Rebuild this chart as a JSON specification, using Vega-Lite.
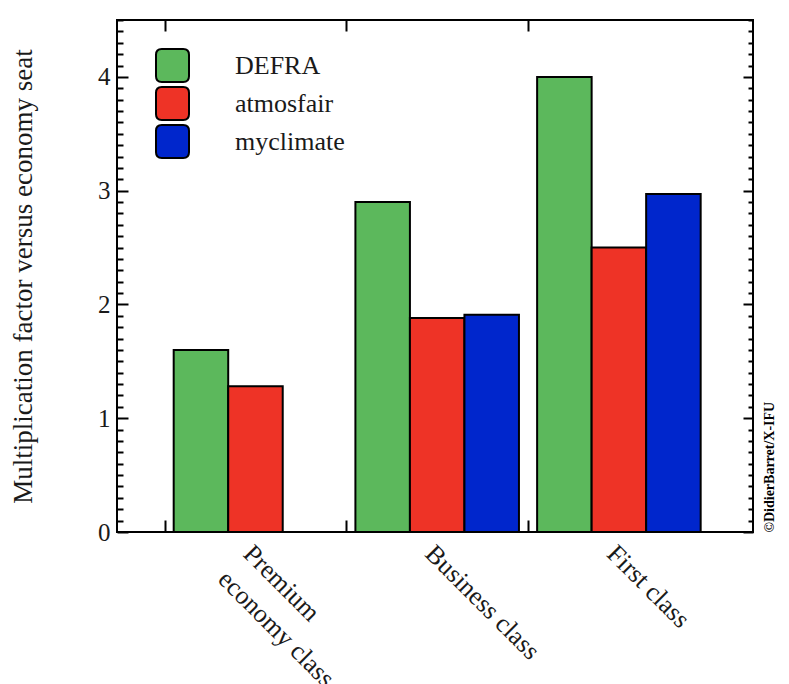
{
  "$schema": "https://vega.github.io/schema/vega-lite/v6.json",
  "width": 636,
  "height": 512,
  "autosize": {"type": "none"},
  "padding": {"left": 117, "top": 20, "right": 36, "bottom": 152},
  "background": "white",
  "config": {
    "font": "Liberation Serif",
    "view": {"stroke": "black", "strokeWidth": 2},
    "axis": {
      "domain": false,
      "grid": false,
      "tickColor": "black",
      "tickWidth": 2,
      "labelColor": "#1a1a1a",
      "titleColor": "#1a1a1a",
      "labelFont": "Liberation Serif",
      "titleFont": "Liberation Serif",
      "titleFontWeight": "normal",
      "labelFontSize": 25,
      "titleFontSize": 25
    }
  },
  "data": {
    "values": [
      {"class": "Premium economy class", "source": "DEFRA", "value": 1.6},
      {"class": "Premium economy class", "source": "atmosfair", "value": 1.28},
      {"class": "Business class", "source": "DEFRA", "value": 2.9},
      {"class": "Business class", "source": "atmosfair", "value": 1.88},
      {"class": "Business class", "source": "myclimate", "value": 1.91},
      {"class": "First class", "source": "DEFRA", "value": 4.0},
      {"class": "First class", "source": "atmosfair", "value": 2.5},
      {"class": "First class", "source": "myclimate", "value": 2.97}
    ]
  },
  "layer": [
    {
      "mark": {"type": "bar", "stroke": "black", "strokeWidth": 2},
      "encoding": {
        "x": {
          "field": "class",
          "type": "nominal",
          "sort": ["Premium economy class", "Business class", "First class"],
          "scale": {"paddingInner": 0.1, "paddingOuter": 0.3, "align": 0.52},
          "axis": {
            "orient": "bottom",
            "title": null,
            "bandPosition": 0,
            "tickOffset": -9,
            "tickSize": -12,
            "labelAngle": 45,
            "labelAlign": "left",
            "labelBaseline": "top",
            "labelOffset": 10,
            "labelPadding": 20,
            "labelLineHeight": 36,
            "labelFontSize": 26,
            "labelLimit": 0,
            "labelExpr": "datum.label == 'Premium economy class' ? ['Premium', 'economy class'] : datum.label"
          }
        },
        "xOffset": {
          "field": "source",
          "sort": ["DEFRA", "atmosfair", "myclimate"],
          "scale": {"paddingInner": 0, "paddingOuter": 0}
        },
        "y": {
          "field": "value",
          "type": "quantitative",
          "scale": {"domain": [0, 4.5], "nice": false},
          "axis": {
            "orient": "left",
            "title": "Multiplication factor versus economy seat",
            "titleFontSize": 27,
            "titlePadding": 60,
            "values": [0, 0.1, 0.2, 0.3, 0.4, 0.5, 0.6, 0.7, 0.8, 0.9, 1, 1.1, 1.2, 1.3, 1.4, 1.5, 1.6, 1.7, 1.8, 1.9, 2, 2.1, 2.2, 2.3, 2.4, 2.5, 2.6, 2.7, 2.8, 2.9, 3, 3.1, 3.2, 3.3, 3.4, 3.5, 3.6, 3.7, 3.8, 3.9, 4, 4.1, 4.2, 4.3, 4.4, 4.5],
            "tickSize": {"condition": {"test": "abs(datum.value - round(datum.value)) < 0.01", "value": -11}, "value": -6},
            "labelExpr": "abs(datum.value - round(datum.value)) < 0.01 && datum.value < 4.4 ? format(datum.value, 'd') : ''",
            "labelOverlap": false,
            "labelFlush": false,
            "labelPadding": 18
          }
        },
        "color": {
          "field": "source",
          "type": "nominal",
          "scale": {"domain": ["DEFRA", "atmosfair", "myclimate"], "range": ["#5cb85c", "#ee3326", "#0026cc"]},
          "legend": {
            "title": null,
            "orient": "none",
            "legendX": 38,
            "legendY": 28,
            "padding": 0,
            "symbolType": "M-0.65,-1H0.65Q1,-1,1,-0.65V0.65Q1,1,0.65,1H-0.65Q-1,1,-1,0.65V-0.65Q-1,-1,-0.65,-1Z",
            "symbolSize": 1089,
            "symbolStrokeColor": "black",
            "symbolStrokeWidth": 2,
            "symbolOpacity": 1,
            "labelFont": "Liberation Serif",
            "labelFontSize": 26,
            "labelColor": "#1a1a1a",
            "labelOffset": 45,
            "rowPadding": -4
          }
        }
      }
    },
    {
      "mark": {"type": "bar", "opacity": 0},
      "encoding": {
        "x": {
          "field": "class",
          "type": "nominal",
          "sort": ["Premium economy class", "Business class", "First class"],
          "axis": {
            "orient": "top",
            "title": null,
            "bandPosition": 0,
            "tickOffset": -9,
            "tickSize": -11,
            "labels": false
          }
        },
        "y": {
          "field": "value",
          "type": "quantitative",
          "axis": {
            "orient": "right",
            "values": [0, 0.1, 0.2, 0.3, 0.4, 0.5, 0.6, 0.7, 0.8, 0.9, 1, 1.1, 1.2, 1.3, 1.4, 1.5, 1.6, 1.7, 1.8, 1.9, 2, 2.1, 2.2, 2.3, 2.4, 2.5, 2.6, 2.7, 2.8, 2.9, 3, 3.1, 3.2, 3.3, 3.4, 3.5, 3.6, 3.7, 3.8, 3.9, 4, 4.1, 4.2, 4.3, 4.4, 4.5],
            "tickSize": {"condition": {"test": "abs(datum.value - round(datum.value)) < 0.01", "value": -10}, "value": -5},
            "labels": false,
            "title": "©DidierBarret/X-IFU",
            "titleFontSize": 14,
            "titleFontWeight": "bold",
            "titleColor": "black",
            "titleAngle": 270,
            "titleAnchor": "start",
            "titleBaseline": "top",
            "titlePadding": 8
          }
        }
      }
    }
  ],
  "resolve": {"axis": {"x": "independent", "y": "independent"}}
}
